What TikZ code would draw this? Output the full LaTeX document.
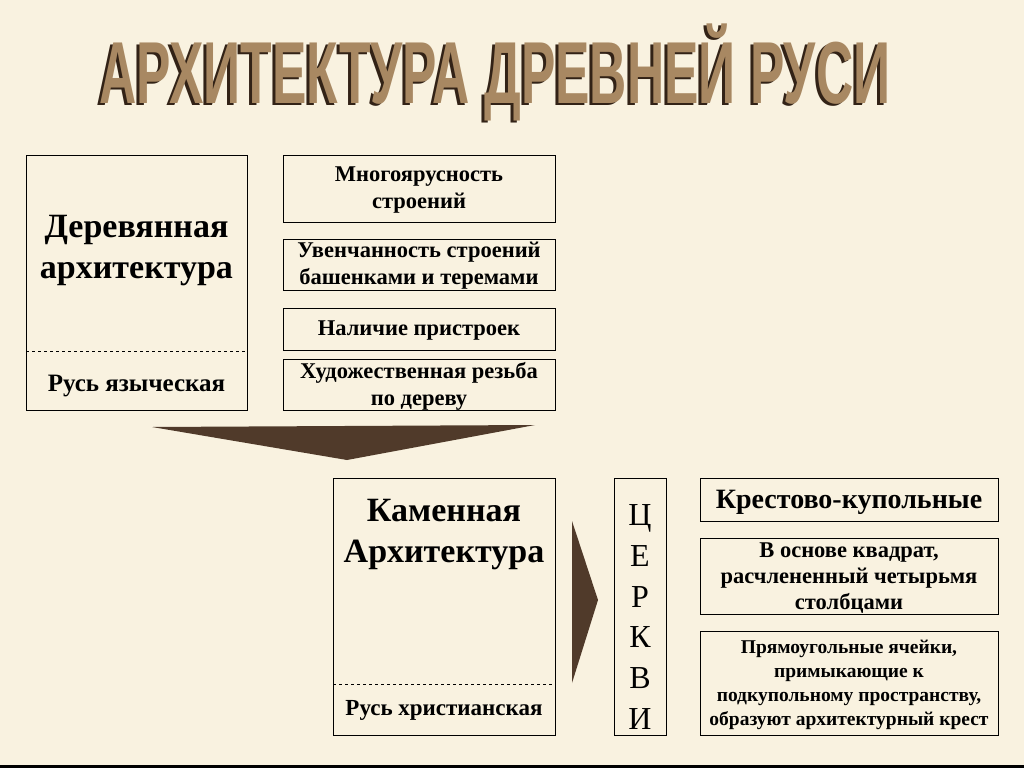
\documentclass[tikz,border=0pt]{standalone}
\usepackage{fontspec}
\setmainfont{Liberation Serif}
\newfontfamily\titlefont{Liberation Sans}
\definecolor{bg}{RGB}{249,242,224}
\definecolor{titlemain}{RGB}{168,136,98}
\definecolor{titleshadow}{RGB}{50,34,22}
\definecolor{arrowfill}{RGB}{80,58,42}
\newcommand{\ttltext}{\scalebox{0.586}[1]{АРХИТЕКТУРА ДРЕВНЕЙ РУСИ}}
\begin{document}
\begin{tikzpicture}[x=1pt,y=-1pt,
  box/.style={draw=black,line width=0.9pt,inner sep=0pt},
  sep/.style={draw=black,line width=0.7pt,dashed},
  txt/.style={inner sep=0pt,align=center,font=\bfseries\fontsize{22.5}{27}\selectfont},
  big/.style={inner sep=0pt,align=center,font=\bfseries\fontsize{34}{41}\selectfont},
  arr/.style={fill=arrowfill,draw=none}]
\fill[bg] (0,0) rectangle (1024,768);
\fill[black] (0,765) rectangle (1024,768);
\useasboundingbox (0,0) rectangle (1024,768);
% title (with dark shadow)
\node[anchor=base,inner sep=0pt,text=titlemain] (title) at (495,103)
  {\titlefont\bfseries\fontsize{88}{88}\selectfont\makebox[0pt][l]{\hspace*{-3pt}\raisebox{-2pt}{\color{titleshadow}\ttltext}}\ttltext};
% wooden
\node[box,minimum width=221pt,minimum height=255pt] (wood) at (136.5,282.5) {};
\draw[sep] (26,351) coordinate (w1) -- (247,351) coordinate (w2);
\node[big] (woodT) at (136.5,251) {Деревянная\\архитектура};
\node[txt,font=\bfseries\fontsize{25}{28}\selectfont] (woodR) at (136.5,386) {Русь языческая};
\node[box,minimum width=272pt,minimum height=67pt] (f1) at (419,188.5) {};
\node[txt] (f1t) at (419,190) {Многоярусность\\строений};
\node[box,minimum width=272pt,minimum height=51pt] (f2) at (419,264.5) {};
\node[txt] (f2t) at (419,266) {Увенчанность строений\\башенками и теремами};
\node[box,minimum width=272pt,minimum height=42pt] (f3) at (419,329) {};
\node[txt] (f3t) at (419,331) {Наличие пристроек};
\node[box,minimum width=272pt,minimum height=51pt] (f4) at (419,384.5) {};
\node[txt] (f4t) at (419,386) {Художественная резьба\\по дереву};
% arrows
\fill[arr] (152,427) coordinate (a1) -- (535,425) coordinate (a2) -- (347,460) coordinate (a3) -- cycle;
\fill[arr] (572,521) coordinate (b1) -- (598,600) coordinate (b2) -- (572,683) coordinate (b3) -- cycle;
% stone
\node[box,minimum width=222pt,minimum height=257pt] (stone) at (444,606.5) {};
\draw[sep] (333,684) coordinate (s1) -- (555,684) coordinate (s2);
\node[big] (stoneT) at (444,535) {Каменная\\Архитектура};
\node[txt,font=\bfseries\fontsize{23}{26}\selectfont] (stoneR) at (444,710) {Русь христианская};
% churches
\node[box,minimum width=52pt,minimum height=257pt] (church) at (640,606.5) {};
\node[inner sep=0pt,align=center,font=\fontsize{32}{40.8}\selectfont] (churchT) at (640,617) {Ц\\Е\\Р\\К\\В\\И};
% right column
\node[box,minimum width=298pt,minimum height=43pt] (c1) at (849,499.5) {};
\node[txt,font=\bfseries\fontsize{28}{30}\selectfont] (c1t) at (849,502) {Крестово-купольные};
\node[box,minimum width=298pt,minimum height=76pt] (c2) at (849,576) {};
\node[txt,font=\bfseries\fontsize{22.5}{26}\selectfont] (c2t) at (849,578) {В основе квадрат,\\расчлененный четырьмя\\столбцами};
\node[box,minimum width=298pt,minimum height=104pt] (c3) at (849,683) {};
\node[txt,font=\bfseries\fontsize{19.5}{24}\selectfont] (c3t) at (849,685) {Прямоугольные ячейки,\\примыкающие к\\подкупольному пространству,\\образуют архитектурный крест};
\end{tikzpicture}
\end{document}
